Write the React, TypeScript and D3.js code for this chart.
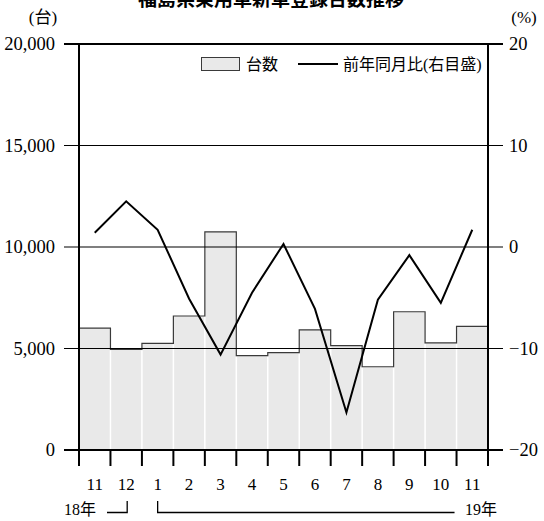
import React from "react";
import * as d3 from "d3";

// Monthly new passenger-car registrations (units) and year-on-year change (%)
const months = ["11", "12", "1", "2", "3", "4", "5", "6", "7", "8", "9", "10", "11"];
const units = [6000, 4960, 5250, 6600, 10750, 4650, 4800, 5920, 5140, 4100, 6810, 5280, 6090];
const yoy = [1.4, 4.5, 1.7, -5.1, -10.6, -4.5, 0.3, -6.1, -16.3, -5.2, -0.8, -5.5, 1.7];
const leftTicks = [0, 5000, 10000, 15000, 20000];
const rightTicks = [-20, -10, 0, 10, 20];

const title = "福島県乗用車新車登録台数推移";
const serifStyle = {
  fontFamily: "'Liberation Serif', 'DejaVu Serif', 'Noto Sans CJK JP', serif",
};

const W = 544;
const H = 521;
const plot = { left: 79, right: 488, top: 44, bottom: 450 };

export default function App() {
  const x = d3
    .scaleBand<number>()
    .domain(d3.range(months.length))
    .range([plot.left, plot.right])
    .padding(0);
  const yL = d3.scaleLinear().domain([0, 20000]).range([plot.bottom, plot.top]);
  const yR = d3.scaleLinear().domain([-20, 20]).range([plot.bottom, plot.top]);
  const bw = x.bandwidth();

  // step outline over the tops of the bars
  const stepPts: [number, number][] = [];
  units.forEach((v, i) => {
    const x0 = x(i)!;
    stepPts.push([x0, yL(v)]);
    stepPts.push([x0 + bw, yL(v)]);
  });
  const last = units.length - 1;
  const stepPath =
    `M${x(0)},${plot.bottom}` +
    stepPts.map(([px, py]) => `L${px},${py}`).join("") +
    `L${x(last)! + bw},${plot.bottom}`;

  const line = d3
    .line<number>()
    .x((_, i) => x(i)! + bw / 2)
    .y((d) => yR(d));

  const fmt = d3.format(",");
  const fmtR = (v: number) => (v < 0 ? "−" + Math.abs(v) : String(v));

  return (
    <svg
      width={W}
      height={H}
      style={{ position: "absolute", left: 0, top: 0, background: "#fff" }}
    >
      <text
        x={271}
        y={5.5}
        textAnchor="middle"
        style={{ fontFamily: "'Noto Sans CJK JP', sans-serif" }}
        fontWeight="bold"
        fontSize={19}
        fill="#000"
      >
        {title}
      </text>

      <text x={43} y={23} textAnchor="middle" style={serifStyle} fontSize={17}>
        (台)
      </text>
      <text x={524} y={23} textAnchor="middle" style={serifStyle} fontSize={17}>
        (%)
      </text>

      {/* bars */}
      {units.map((v, i) => (
        <rect
          key={"b" + i}
          x={x(i)}
          y={yL(v)}
          width={bw}
          height={plot.bottom - yL(v)}
          fill="#e9e9e9"
        />
      ))}
      {/* white separators between adjacent bars */}
      {units.slice(1).map((v, k) => {
        const i = k + 1;
        const top = yL(Math.min(v, units[i - 1]));
        return (
          <line
            key={"s" + i}
            x1={x(i)}
            x2={x(i)}
            y1={plot.bottom}
            y2={top + 1}
            stroke="#fff"
            strokeWidth={1.5}
          />
        );
      })}
      <path d={stepPath} fill="none" stroke="#3a3a3a" strokeWidth={1.2} />

      {/* horizontal grid lines with outside ticks */}
      {leftTicks.map((t) => (
        <line
          key={"g" + t}
          x1={plot.left - 15}
          x2={plot.right + 15}
          y1={yL(t)}
          y2={yL(t)}
          stroke="#000"
          strokeWidth={t === 20000 || t === 0 ? 2 : 1.1}
        />
      ))}

      {/* axes */}
      <line x1={plot.left} x2={plot.left} y1={plot.top} y2={plot.bottom} stroke="#000" strokeWidth={2} />
      <line x1={plot.right} x2={plot.right} y1={plot.top} y2={plot.bottom} stroke="#000" strokeWidth={2} />
      {d3.range(months.length + 1).map((i) => {
        const px = i < months.length ? x(i)! : x(last)! + bw;
        return (
          <line
            key={"t" + i}
            x1={px}
            x2={px}
            y1={plot.bottom}
            y2={plot.bottom + 16}
            stroke="#000"
            strokeWidth={2}
          />
        );
      })}

      {/* year-on-year line */}
      <path d={line(yoy) ?? ""} fill="none" stroke="#000" strokeWidth={2} strokeLinejoin="miter" />

      {/* left tick labels */}
      {leftTicks.map((t) => (
        <text
          key={"l" + t}
          x={55}
          y={yL(t)}
          dy="0.35em"
          textAnchor="end"
          style={serifStyle}
          fontSize={18.5}
        >
          {fmt(t)}
        </text>
      ))}
      {/* right tick labels */}
      {rightTicks.map((t) => (
        <text
          key={"r" + t}
          x={509}
          y={yR(t)}
          dy="0.35em"
          textAnchor="start"
          style={serifStyle}
          fontSize={18.5}
        >
          {fmtR(t)}
        </text>
      ))}
      {/* month labels */}
      {months.map((m, i) => (
        <text
          key={"m" + i}
          x={x(i)! + bw / 2}
          y={490}
          textAnchor="middle"
          style={serifStyle}
          fontSize={17}
        >
          {m}
        </text>
      ))}

      {/* year brackets */}
      <text x={80} y={509} dy="0.35em" textAnchor="middle" style={serifStyle} fontSize={16}>
        18年
      </text>
      <path
        d={`M107,512.5H${x(1)! + bw / 2 + 1}V501`}
        fill="none"
        stroke="#000"
        strokeWidth={1.3}
      />
      <path
        d={`M${x(2)! + bw / 2},501V512.5H${x(last)! - 2}`}
        fill="none"
        stroke="#000"
        strokeWidth={1.3}
      />
      <text x={481} y={509} dy="0.35em" textAnchor="middle" style={serifStyle} fontSize={16}>
        19年
      </text>

      {/* legend */}
      <rect x={201.5} y={57.5} width={38} height={13} fill="#e9e9e9" stroke="#3a3a3a" strokeWidth={1} />
      <text x={246} y={64} dy="0.35em" style={serifStyle} fontSize={16}>
        台数
      </text>
      <line x1={298} x2={338} y1={64} y2={64} stroke="#000" strokeWidth={2} />
      <text x={343} y={64} dy="0.35em" style={serifStyle} fontSize={16}>
        前年同月比(右目盛)
      </text>
    </svg>
  );
}
